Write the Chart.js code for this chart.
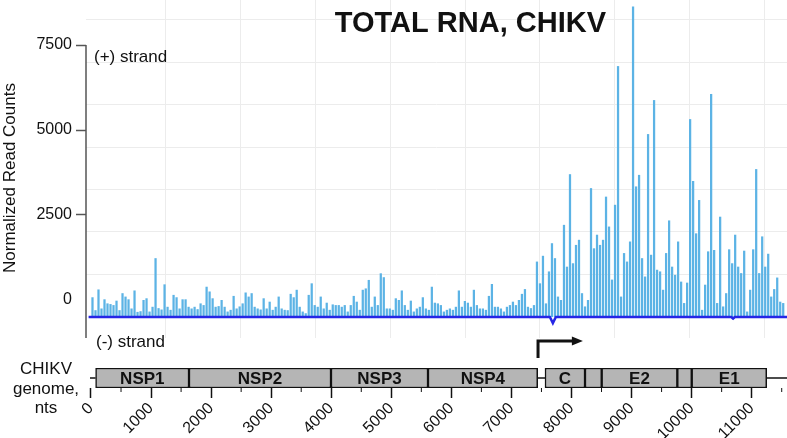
<!DOCTYPE html>
<html>
<head>
<meta charset="utf-8">
<title>Total RNA, CHIKV</title>
<script src="https://cdn.jsdelivr.net/npm/chart.js@4.4.1/dist/chart.umd.min.js"></script>
<style>
  body { margin: 0; background: #fff; }
  .wrap { position: relative; width: 787px; height: 438px; overflow: hidden; }
  .wrap canvas { position: absolute; left: 0; top: 0; }
</style>
</head>
<body>
<div class="wrap">
  <canvas id="signalChart" width="787" height="438"></canvas>
  <canvas id="genomeChart" width="787" height="438"></canvas>
</div>
<script>
// ========= Data =========
const binSize = 50; // nt per bin
// (+) strand normalized read counts, one value per 50-nt bin starting at nt 0
const plusCounts = [
  80, -300, 310, -250, 20, -100, -120, -150, -20, -300,
  200, 100, 20, -250, 280, -350, -330, 0, 50, -340,
  -200, 1230, -240, -280, 460, -200, -290, 150, 80, -250,
  20, 20, -200, -250, -200, -270, -100, -150, 390, 250,
  50, -200, -180, 0, -200, -340, -290, 120, -250, -190,
  -100, 220, 100, 200, -200, -250, -280, 50, -250, -50,
  -290, -200, 100, -250, -290, -300, 180, 80, 300, -200,
  -340, -390, 150, 490, -150, -200, 100, -250, -80, -290,
  -130, -150, -150, -200, -150, -340, -150, 120, -50, -290,
  300, 340, 590, -200, 100, -150, 785, 670, -250, -250,
  -290, 50, 0, 280, -150, -290, -20, -340, -250, -200,
  80, -250, -290, 390, -80, -100, -150, -340, -290, -250,
  -290, -200, 280, -200, -30, -80, -200, 300, -150, -250,
  -250, -290, 120, 470, -200, -200, -250, -340, -200, -150,
  -50, -150, 0, 180, 320, -200, -240, -150, 1130, 490,
  1300, -100, 840, 1670, 1230, 100, 0, 2210, 980, 3700,
  1080, 1620, 1770, 200, -190, 0, 3290, 1520, 1920, 1620,
  1770, 3040, 2160, 600, 2800, 6880, 100, 1380, 1130, 1720,
  8630, 3340, 3680, 1230, 690, 4880, 1330, 5880, 890, 840,
  300, 1380, 2340, 980, 740, 1720, 540, -90, 510, 5320,
  3500, 1960, 2940, -290, 450, 1430, 6060, 1470, -90, 2450,
  -190, 200, 1490, 1080, 1920, 980, 790, 1450, -340, 300,
  1490, 3850, 790, 1870, 980, 1360, 100, 320, 660, -50,
  -90
];
const plusBase = -500;

// (-) strand trace
const minusPos = [-40, 7640, 7690, 7740, 10660, 10690, 10720, 11588];
const minusCounts = [-500, -500, -680, -500, -500, -545, -500, -500];

// axes
const xMin = -83;
const xMax = 11588;
const yMin = -1118;
const yMax = 8824;
const yTicks = [0, 2500, 5000, 7500];
const yGridValues = [750, 2000, 3250, 4500, 5750, 7000, 8250];
const xGridValues = [1235, 2483, 3731, 4979, 6227, 7475, 8723, 9971, 11219];
const xTicks = [0, 1000, 2000, 3000, 4000, 5000, 6000, 7000, 8000, 9000, 10000, 11000];
const xMinorTicks = [500, 1500, 2500, 3500, 4500, 5500, 6500, 7500, 8500, 9500, 10500, 11500];

// genome map
const geneNames = ["NSP1", "NSP2", "NSP3", "NSP4", "C", "E3", "E2", "6K", "E1"];
const geneLabels = ["NSP1", "NSP2", "NSP3", "NSP4", "C", "", "E2", "", "E1"];
const geneStart = [77, 1632, 3996, 5611, 7559, 8225, 8503, 9762, 10002];
const geneEnd = [1632, 3996, 5611, 7437, 8225, 8503, 9762, 10002, 11250];
const genomeLinks = [[7437, 7559], [11250, 11588]];
const promoter = [7443, 8190];

const FONT = 'Arial, "Liberation Sans", Helvetica, sans-serif';
const TEXT = "#111";

// ========= Signal chart =========
const signalDecor = {
  id: "signalDecor",
  afterDraw(chart) {
    const { ctx, chartArea } = chart;
    const y = chart.scales.y;
    ctx.save();
    // y axis line (starts at the top tick)
    ctx.strokeStyle = "#555";
    ctx.lineWidth = 1.5;
    ctx.beginPath();
    ctx.moveTo(chartArea.left, y.getPixelForValue(yTicks[yTicks.length - 1]));
    ctx.lineTo(chartArea.left, chartArea.bottom);
    ctx.stroke();

    ctx.fillStyle = TEXT;
    ctx.font = "bold 29px " + FONT;
    ctx.textAlign = "right";
    ctx.textBaseline = "alphabetic";
    ctx.fillText("TOTAL RNA, CHIKV", 606, 32);

    ctx.font = "17px " + FONT;
    ctx.textAlign = "left";
    ctx.fillText("(+) strand", 94, 62);
    ctx.fillText("(-) strand", 96, 347);

    ctx.translate(15, 178);
    ctx.rotate(-Math.PI / 2);
    ctx.textAlign = "center";
    ctx.fillText("Normalized Read Counts", 0, 0);
    ctx.restore();
  }
};

new Chart(document.getElementById("signalChart"), {
  type: "bar",
  data: {
    datasets: [
      {
        type: "line",
        label: "(-) strand",
        data: minusPos.map((x, i) => ({ x: x, y: minusCounts[i] })),
        borderColor: "#2626e6",
        borderWidth: 2.5,
        pointRadius: 0,
        order: 0
      },
      {
        type: "bar",
        label: "(+) strand",
        data: plusCounts.map((v, i) => ({ x: i * binSize + binSize / 2, y: v })),
        backgroundColor: "#5cb3e5",
        base: plusBase,
        barPercentage: 0.75,
        categoryPercentage: 1,
        order: 1
      }
    ]
  },
  options: {
    responsive: false,
    animation: false,
    layout: { padding: { left: 0, right: 0, top: 0, bottom: 100 } },
    plugins: { legend: { display: false }, tooltip: { enabled: false } },
    scales: {
      x: {
        type: "linear",
        min: xMin,
        max: xMax,
        offset: false,
        ticks: { display: false },
        grid: { color: "#ececec", drawTicks: false, offset: false },
        border: { display: false },
        afterBuildTicks: s => { s.ticks = xGridValues.map(v => ({ value: v })); },
        afterFit: s => { s.height = 0; s.paddingLeft = 0; s.paddingRight = 0; }
      },
      y: {
        type: "linear",
        position: "left",
        min: yMin,
        max: yMax,
        ticks: { font: { size: 16, family: FONT }, color: TEXT, padding: 4, callback: v => String(v) },
        grid: {
          drawOnChartArea: false,
          tickLength: 10,
          tickWidth: 1.5,
          color: c => (c.tick && c.tick.value === 0 ? "rgba(0,0,0,0)" : "#555")
        },
        border: { display: false },
        afterBuildTicks: s => { s.ticks = yTicks.map(v => ({ value: v })); },
        afterFit: s => { s.width = 86; s.paddingTop = 0; s.paddingBottom = 0; }
      },
      yGrid: {
        type: "linear",
        position: "left",
        min: yMin,
        max: yMax,
        ticks: { display: false },
        grid: { color: "#ececec", drawTicks: false },
        border: { display: false },
        afterBuildTicks: s => { s.ticks = yGridValues.map(v => ({ value: v })); },
        afterFit: s => { s.width = 0; s.paddingTop = 0; s.paddingBottom = 0; }
      }
    }
  },
  plugins: [signalDecor]
});

// ========= Genome map chart =========
const genomeDecor = {
  id: "genomeDecor",
  afterDraw(chart) {
    const { ctx, chartArea } = chart;
    const x = chart.scales.x;
    const mid = (chartArea.top + chartArea.bottom) / 2;
    ctx.save();

    // connector lines
    ctx.strokeStyle = "#111";
    ctx.lineWidth = 1.5;
    genomeLinks.forEach(([a, b]) => {
      ctx.beginPath();
      ctx.moveTo(x.getPixelForValue(a), mid);
      ctx.lineTo(x.getPixelForValue(b), mid);
      ctx.stroke();
    });

    // small tick left of the map
    ctx.beginPath();
    ctx.moveTo(chartArea.left + 4, mid);
    ctx.lineTo(x.getPixelForValue(geneStart[0]), mid);
    ctx.stroke();

    // minor ticks
    ctx.lineWidth = 1;
    xMinorTicks.forEach(v => {
      const px = x.getPixelForValue(v);
      ctx.beginPath();
      ctx.moveTo(px, chartArea.bottom);
      ctx.lineTo(px, chartArea.bottom + 4);
      ctx.stroke();
    });

    // gene labels
    ctx.fillStyle = TEXT;
    ctx.font = "bold 17px " + FONT;
    ctx.textAlign = "center";
    ctx.textBaseline = "middle";
    geneLabels.forEach((name, i) => {
      if (!name) return;
      const cx = (x.getPixelForValue(geneStart[i]) + x.getPixelForValue(geneEnd[i])) / 2;
      ctx.fillText(name, cx, mid + 1);
    });

    // subgenomic promoter arrow
    const p0 = x.getPixelForValue(promoter[0]);
    const p1 = x.getPixelForValue(promoter[1]);
    const top = chartArea.top - 27;
    ctx.lineWidth = 3;
    ctx.beginPath();
    ctx.moveTo(p0, chartArea.top - 10);
    ctx.lineTo(p0, top);
    ctx.lineTo(p1 - 8, top);
    ctx.stroke();
    ctx.beginPath();
    ctx.moveTo(p1, top);
    ctx.lineTo(p1 - 11, top - 4.5);
    ctx.lineTo(p1 - 11, top + 4.5);
    ctx.closePath();
    ctx.fill();

    // left label
    ctx.font = "17px " + FONT;
    ctx.textBaseline = "alphabetic";
    ctx.fillText("CHIKV", 46, 374);
    ctx.fillText("genome,", 46, 394);
    ctx.fillText("nts", 46, 413);
    ctx.restore();
  }
};

new Chart(document.getElementById("genomeChart"), {
  type: "bar",
  data: {
    labels: ["genome"],
    datasets: [{
      label: "CHIKV genome",
      data: geneNames.map((g, i) => ({ x: [geneStart[i], geneEnd[i]], y: "genome" })),
      backgroundColor: "#b5b5b5",
      borderColor: "#111",
      borderWidth: 1.5,
      borderSkipped: false,
      barPercentage: 1,
      categoryPercentage: 1
    }]
  },
  options: {
    indexAxis: "y",
    responsive: false,
    animation: false,
    layout: { padding: { left: 86, right: 0, top: 368, bottom: 0 } },
    plugins: { legend: { display: false }, tooltip: { enabled: false } },
    scales: {
      x: {
        type: "linear",
        min: xMin,
        max: xMax,
        ticks: {
          font: { size: 16, family: FONT },
          color: TEXT,
          minRotation: 45,
          maxRotation: 45,
          padding: 1,
          callback: v => String(v)
        },
        grid: { drawOnChartArea: false, tickLength: 10, tickWidth: 1.5, color: "#111" },
        border: { display: false },
        afterBuildTicks: s => { s.ticks = xTicks.map(v => ({ value: v })); },
        afterFit: s => { s.height = 50; s.paddingLeft = 0; s.paddingRight = 0; }
      },
      y: { display: false }
    }
  },
  plugins: [genomeDecor]
});
</script>
</body>
</html>
